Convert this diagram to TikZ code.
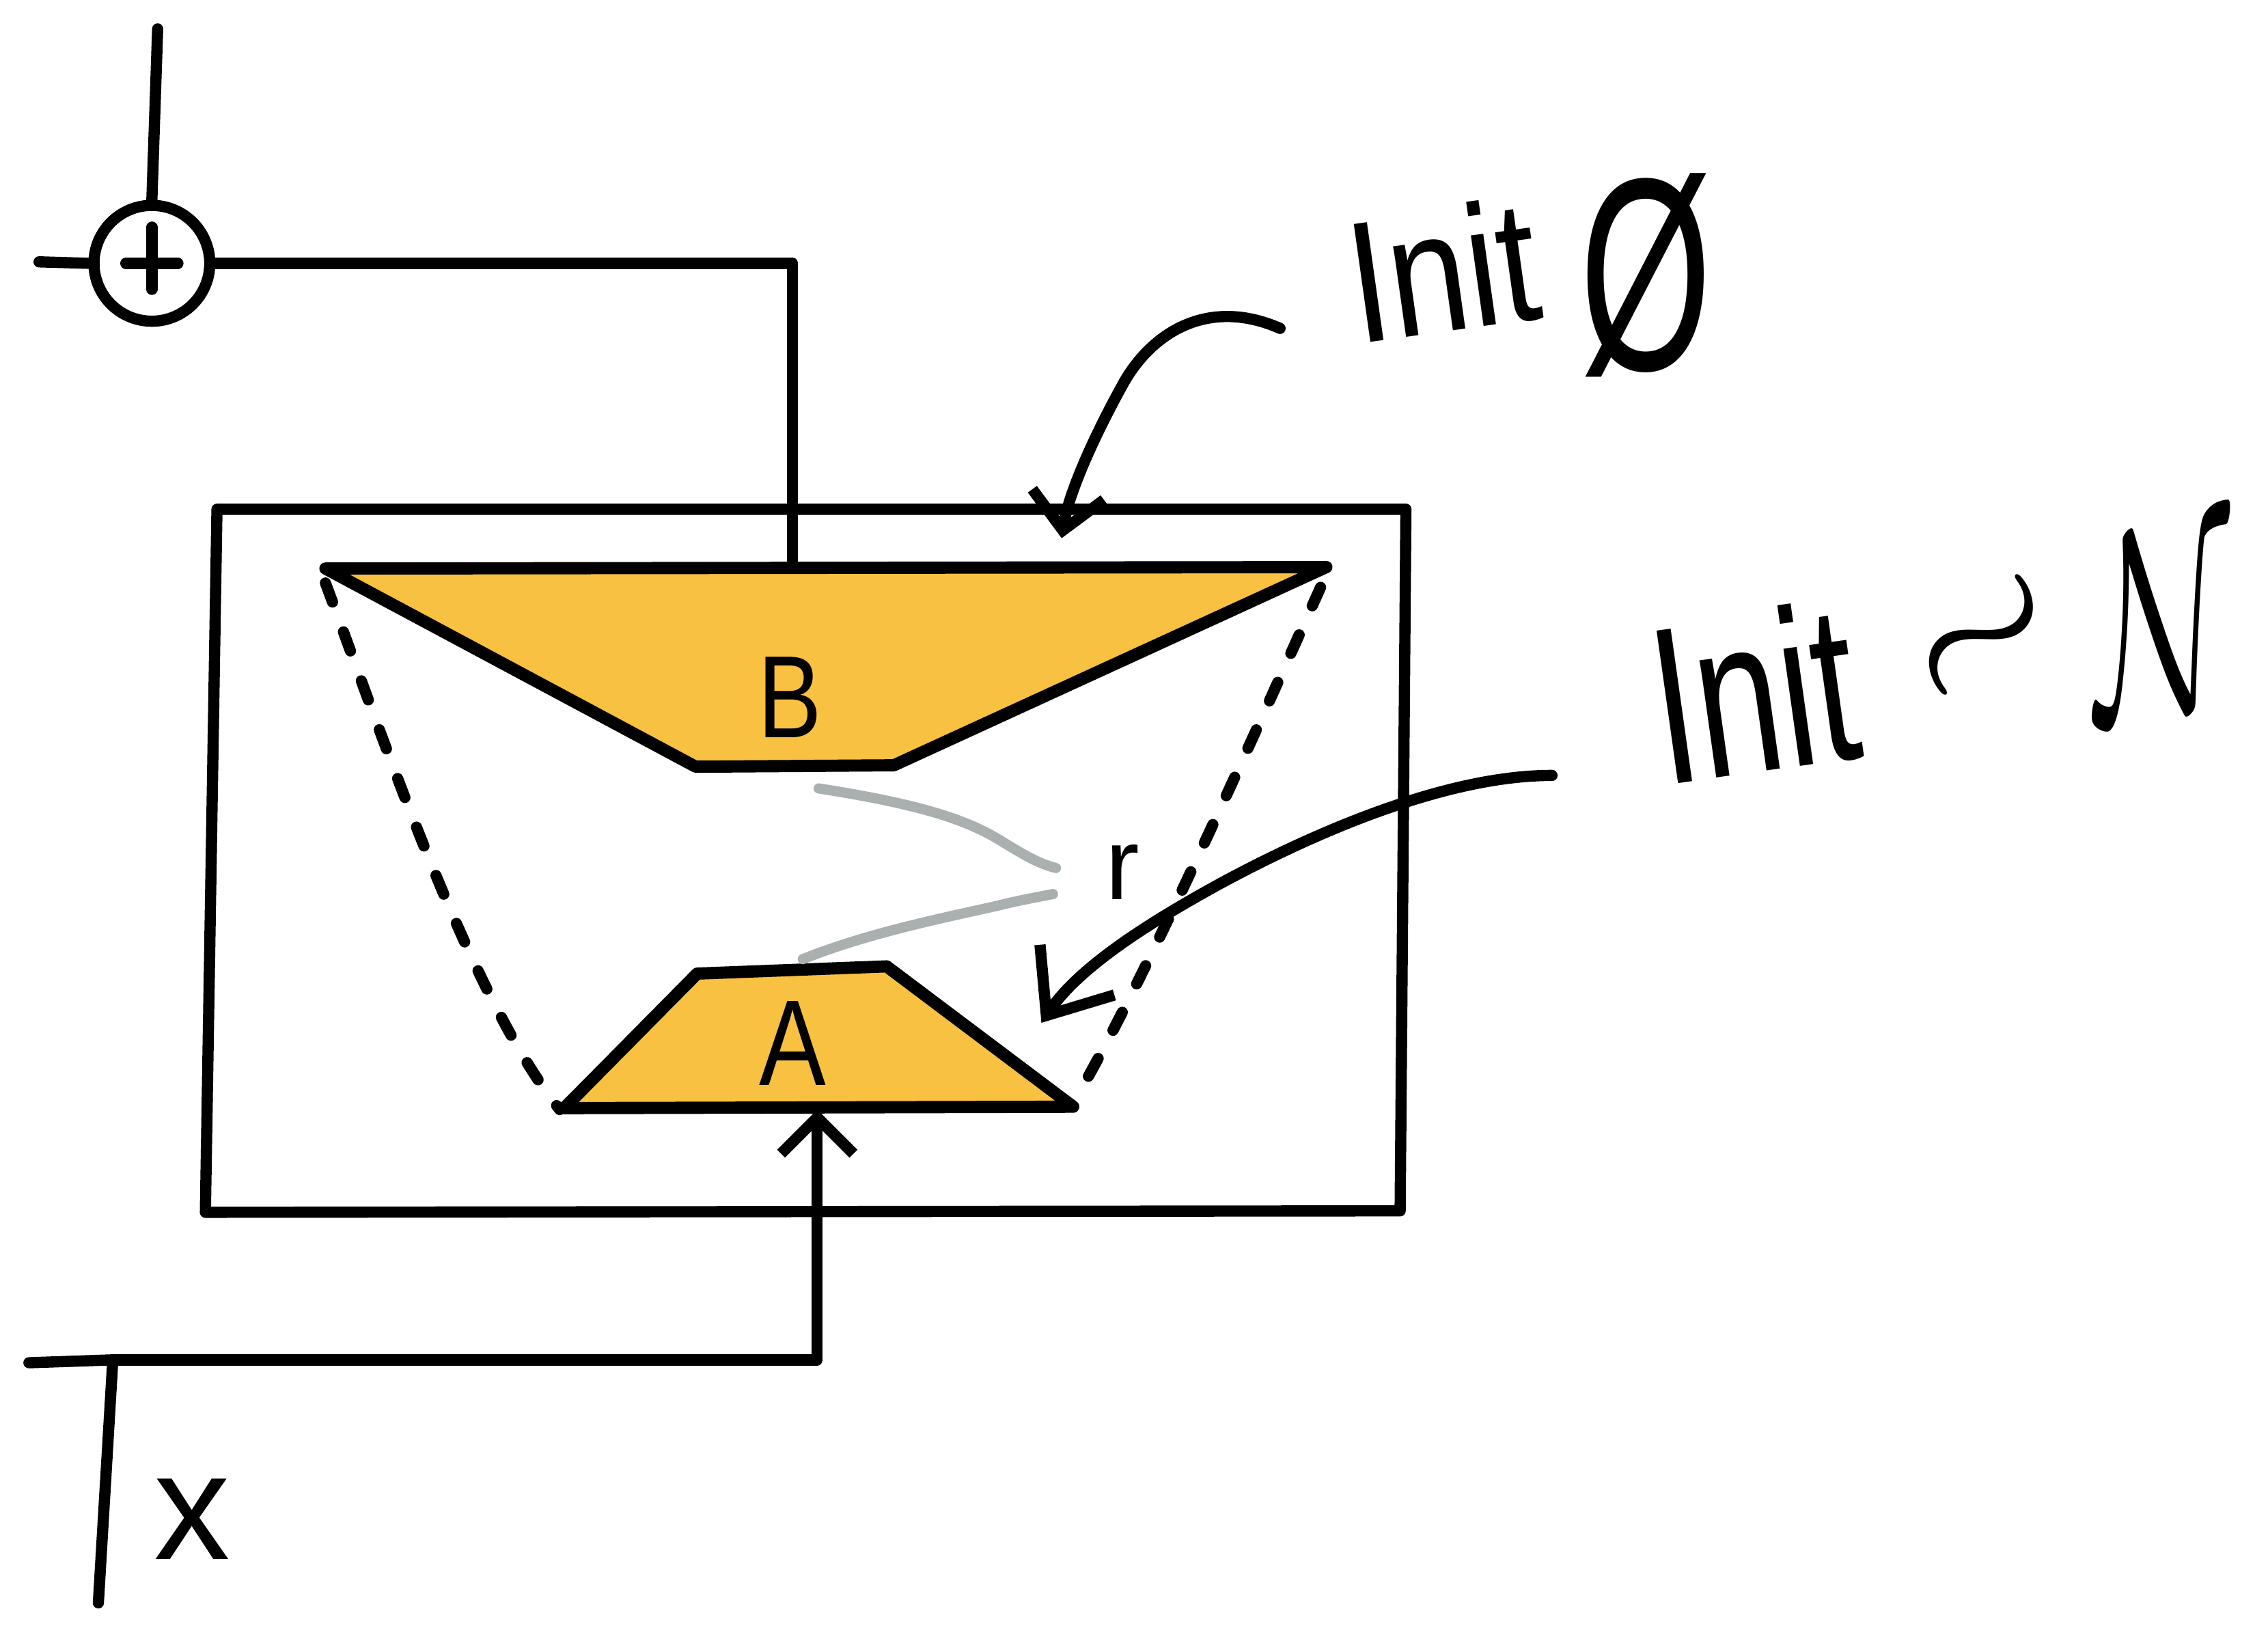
\RequirePackage{fix-cm}
\documentclass[tikz,border=0pt]{standalone}
\usepackage{graphicx}
\usepackage{fontspec}
\setmainfont{Liberation Sans}
\newfontfamily\handA[FakeStretch=0.82]{Liberation Sans}
\newfontfamily\handB[FakeStretch=0.68]{Liberation Sans}
\newfontfamily\handC[FakeStretch=0.62]{Liberation Sans}
\usetikzlibrary{arrows.meta}
\definecolor{lorafill}{HTML}{F9C142}
\definecolor{rankgray}{HTML}{AAB0AF}
\newcommand\hsz[1]{\fontsize{#1}{#1}\selectfont}
\begin{document}
\begin{tikzpicture}[x=0.01cm,y=-0.01cm,
  ink/.style={line width=2.2pt,line cap=round,line join=round},
  trap/.style={ink,fill=lorafill,line width=2.4pt},
  dashline/.style={ink,dash pattern=on 0.14cm off 0.22cm},
  rankline/.style={line width=2pt,line cap=round,draw=rankgray},
  barb/.style={-{Straight Barb[length=0.25cm,width=0.5cm]}},
  bigbarb/.style={-{Straight Barb[length=0.38cm,width=0.62cm]}},
  lbl/.style={inner sep=0pt}]
\useasboundingbox (0,0) rectangle (1568,1130);
% outer box (pretrained weights)
\coordinate (W1) at (150,352);
\coordinate (W2) at (972,352);
\coordinate (W3) at (968,837);
\coordinate (W4) at (142,838);
\draw[ink] (W1) -- (W2) -- (W3) -- (W4) -- cycle;
% dashed guide lines
\coordinate (DL1) at (225,403);
\coordinate (DL2) at (387,767);
\coordinate (DR1) at (913,406);
\coordinate (DR2) at (748,752);
\draw[dashline] (DL1) .. controls (265,510) and (325,690) .. (DL2);
\draw[dashline] (DR1) .. controls (875,490) and (800,660) .. (DR2);
% trapezoid B
\coordinate (B1) at (225,393);
\coordinate (B2) at (917,392);
\coordinate (B3) at (618,529);
\coordinate (B4) at (481,530);
\draw[trap] (B1) -- (B2) -- (B3) -- (B4) -- cycle;
\node[lbl,font=\handA\hsz{23}] (Blab) at (546,482) {B};
% trapezoid A
\coordinate (A1) at (482,673);
\coordinate (A2) at (613,668);
\coordinate (A3) at (742,765);
\coordinate (A4) at (390,766);
\draw[trap] (A1) -- (A2) -- (A3) -- (A4) -- cycle;
\node[lbl,font=\handA\hsz{24}] (Alab) at (548,721) {A};
% rank marks
\coordinate (r1a) at (566,545);
\coordinate (r1b) at (730,600);
\coordinate (r2a) at (555,663);
\coordinate (r2b) at (728,618);
\draw[rankline] (r1a) .. controls (630,555) and (665,565) .. (690,580) .. controls (708,591) and (718,597) .. (r1b);
\draw[rankline] (r2a) .. controls (600,645) and (650,635) .. (690,626) .. controls (706,622) and (718,620) .. (r2b);
\node[lbl,font=\hsz{20}] (rlab) at (776,603) {r};
% plus node
\node[ink,draw,circle,minimum size=0.8cm,inner sep=0pt] (plus) at (105,182) {};
\draw[ink] ([xshift=-0.18cm]plus.center) -- ([xshift=0.18cm]plus.center);
\draw[ink] ([yshift=0.25cm]plus.center) -- ([yshift=-0.18cm]plus.center);
\coordinate (Btop) at (548,392);
\coordinate (leftin) at (27,181);
\coordinate (outtop) at (109,20);
\draw[ink] (Btop) |- (plus.east);
\draw[ink] (leftin) -- (plus.west);
\draw[ink] (plus.north) -- (outtop);
% input x
\coordinate (xfree) at (68,1108);
\coordinate (xj) at (78,940);
\coordinate (lstub) at (20,942);
\coordinate (Abot) at (565,767);
\draw[ink] (xfree) -- (xj);
\draw[ink] (lstub) -- (xj);
\draw[ink,barb] (xj) -| (Abot);
\node[lbl,font=\hsz{30}] (xlab) at (133,1050) {x};
% Init 0
\node[lbl,font=\handA\hsz{34},rotate=8,anchor=base west] (init0) at (938,238) {Init};
\node[lbl,font=\handC\hsz{54}] (zero) at (1138,190) {Ø};
\coordinate (init0tail) at (885,227);
\coordinate (initBtip) at (734,372);
\draw[ink,barb] (init0tail) .. controls (835,205) and (795,230) .. (775,268) .. controls (752,310) and (738,345) .. (initBtip);
% Init ~ N
\node[lbl,font=\handB\hsz{44},rotate=8,anchor=base west] (initN) at (1150,543) {Init};
\node[lbl,font=\hsz{40},rotate=40] (tilde) at (1376,446) {$\sim$};
\node[lbl,font=\hsz{52},rotate=6] (normal) at (1496,430) {\scalebox{0.6}[1]{$\mathcal{N}$}};
\coordinate (initNtail) at (1073,536);
\coordinate (initAtip) at (720,707);
\draw[ink,bigbarb] (initNtail) .. controls (1000,536) and (910,575) .. (845,610) .. controls (790,640) and (745,670) .. (initAtip);
\end{tikzpicture}
\end{document}
